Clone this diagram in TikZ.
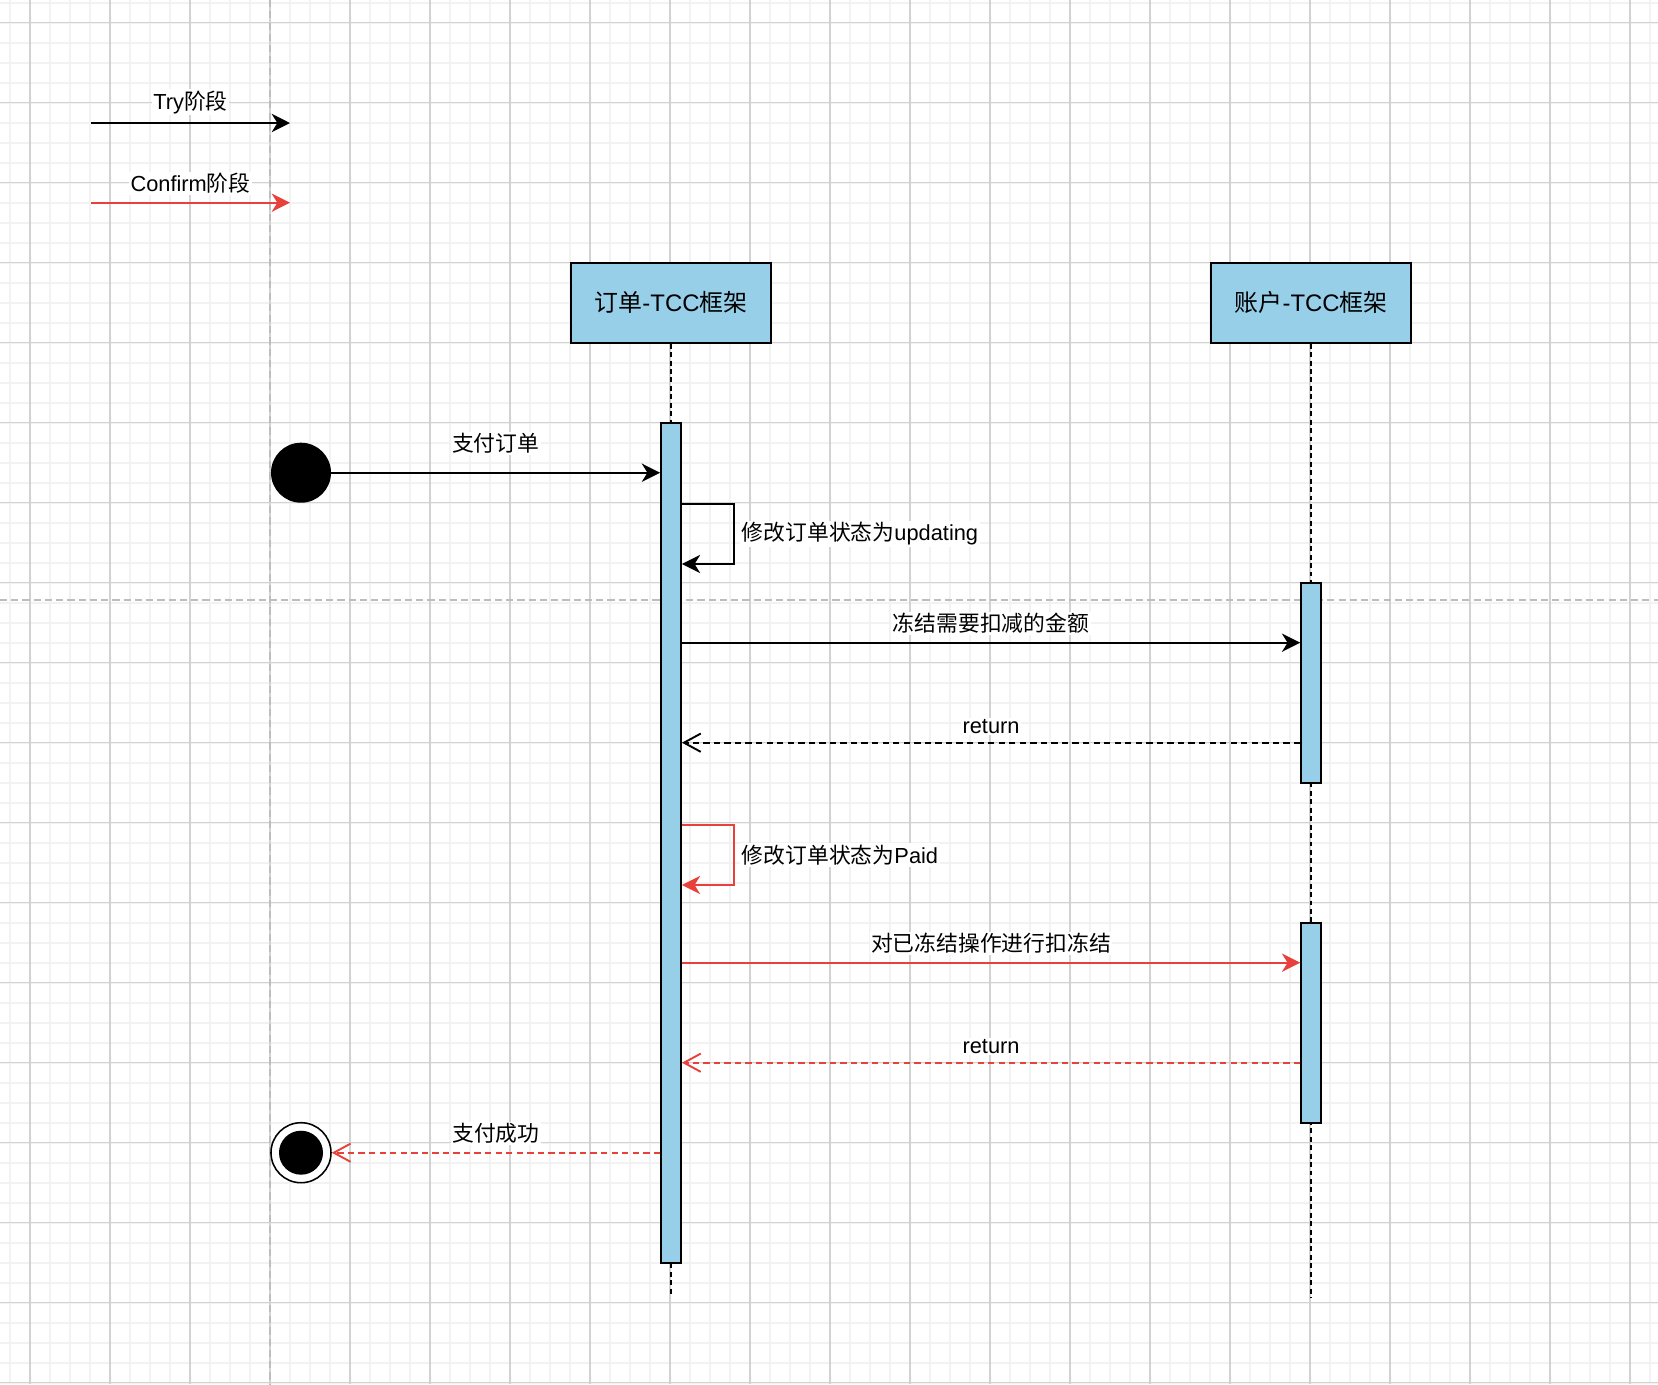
\documentclass[tikz,border=0pt]{standalone}
\usepackage{fontspec}
\setmainfont{Liberation Sans}
\newfontfamily\cjk{Noto Sans CJK SC}
\usetikzlibrary{positioning,arrows.meta,calc,backgrounds}
\definecolor{tccblue}{HTML}{97CEE8}
\definecolor{tccred}{HTML}{E8403A}
\definecolor{gridmaj}{HTML}{D2D2D2}
\definecolor{gridmin}{HTML}{F2F2F2}
\definecolor{guidegray}{HTML}{BDBDBD}

\begin{document}
\begin{tikzpicture}[
      x=0.025cm, y=-0.025cm,
      font=\fontsize{15.5pt}{18pt}\selectfont,
      party/.style={draw, line width=1.4pt, fill=tccblue, minimum width=5cm,
                    minimum height=2cm, font=\fontsize{17pt}{20pt}\selectfont},
      bar/.style={draw, line width=1.3pt, fill=tccblue, minimum width=0.5cm, inner sep=0pt},
      life/.style={line width=1.3pt, dash pattern=on 3.5pt off 2.5pt},
      guide/.style={draw=guidegray, line width=0.8pt, dash pattern=on 5pt off 3pt},
      msg/.style={-{Stealth[length=13pt,width=13pt,inset=4pt]}, line width=1.35pt},
      ret/.style={-{Straight Barb[length=12pt,width=13pt]}, line width=1.35pt,
                  dash pattern=on 4.5pt off 3pt},
      lbl/.style={fill=white, text=black, inner sep=1pt}
    ]
    \useasboundingbox (0,0) rectangle (1658,1384);

    % participants
    \node[party] (ord) at (671,302.7) {{\cjk 订单}-TCC{\cjk 框架}};
    \node[party, right=10.95cm of ord] (acc) {{\cjk 账户}-TCC{\cjk 框架}};
    \node[bar, minimum height=21cm, below=1.95cm of ord] (ordbar) {};
    \node[bar, minimum height=5cm, below=5.95cm of acc] (accbar1) {};
    \node[bar, minimum height=5cm, below=3.45cm of accbar1] (accbar2) {};
    \coordinate (ordend) at (0,1297);
    \coordinate (accend) at (0,1298);

    % start / end
    \node[circle, fill, minimum size=1.5cm, inner sep=0pt] (start) at (301,472.7) {};
    \node[circle, draw, line width=1.1pt, fill=white, minimum size=1.5cm, inner sep=0pt] (stop) at (301,1152.7) {};
    \node[circle, fill, minimum size=1.1cm, inner sep=0pt] (stopdot) at (stop) {};

    % message rows
    \coordinate (l1a) at (0,504);  \coordinate (l1b) at (0,564);
    \coordinate (r1) at (0,642.7); \coordinate (r2) at (0,742.7);
    \coordinate (l2a) at (0,825);  \coordinate (l2b) at (0,885);
    \coordinate (r3) at (0,962.7); \coordinate (r4) at (0,1062.7);

    \begin{scope}[on background layer]
      \foreach \gx in {10,30,...,1650} \draw[gridmin, line width=1.4pt] (\gx,0) -- (\gx,1384);
      \foreach \gy in {2.7,22.7,...,1383} \draw[gridmin, line width=1.4pt] (0,\gy) -- (1658,\gy);
      \foreach \gx in {30,110,...,1650} \draw[gridmaj, line width=0.75pt] (\gx,0) -- (\gx,1384);
      \foreach \gy in {22.7,102.7,...,1383} \draw[gridmaj, line width=0.75pt] (0,\gy) -- (1658,\gy);
      \draw[guide] (270,0) -- (270,1384);
      \draw[guide] (0,600) -- (1658,600);
      \draw[life] (ord) -- (ord |- ordend);
      \draw[life] (acc) -- (acc |- accend);
    \end{scope}

    % legend
    \coordinate (tryA) at (91,123);   \coordinate (tryB) at (290,123);
    \coordinate (cfmA) at (91,202.7); \coordinate (cfmB) at (290,202.7);
    \draw[msg] (tryA) -- node[lbl, above=5pt]{Try{\cjk 阶段}} (tryB);
    \draw[msg, draw=tccred] (cfmA) -- node[lbl, above=5pt]{Confirm{\cjk 阶段}} (cfmB);

    % try phase
    \draw[msg] (start) -- node[lbl, above=12pt]{{\cjk 支付订单}} (ordbar.west |- start);
    \draw[msg] (ordbar.east |- l1a) -- ++(52,0) |- node[lbl, pos=0.25, right=4pt]{{\cjk 修改订单状态为}updating} (ordbar.east |- l1b);
    \draw[msg] (ordbar.east |- r1) -- node[lbl, above=5pt]{{\cjk 冻结需要扣减的金额}} (accbar1.west |- r1);
    \draw[ret] (accbar1.west |- r2) -- node[lbl, above=5pt]{return} (ordbar.east |- r2);

    % confirm phase
    \draw[msg, draw=tccred] (ordbar.east |- l2a) -- ++(52,0) |- node[lbl, pos=0.25, right=4pt]{{\cjk 修改订单状态为}Paid} (ordbar.east |- l2b);
    \draw[msg, draw=tccred] (ordbar.east |- r3) -- node[lbl, above=5pt]{{\cjk 对已冻结操作进行扣冻结}} (accbar2.west |- r3);
    \draw[ret, draw=tccred] (accbar2.west |- r4) -- node[lbl, above=5pt]{return} (ordbar.east |- r4);
    \draw[ret, draw=tccred] (ordbar.west |- stop) -- node[lbl, above=5pt]{{\cjk 支付成功}} (stop);
  \end{tikzpicture}
\end{document}
